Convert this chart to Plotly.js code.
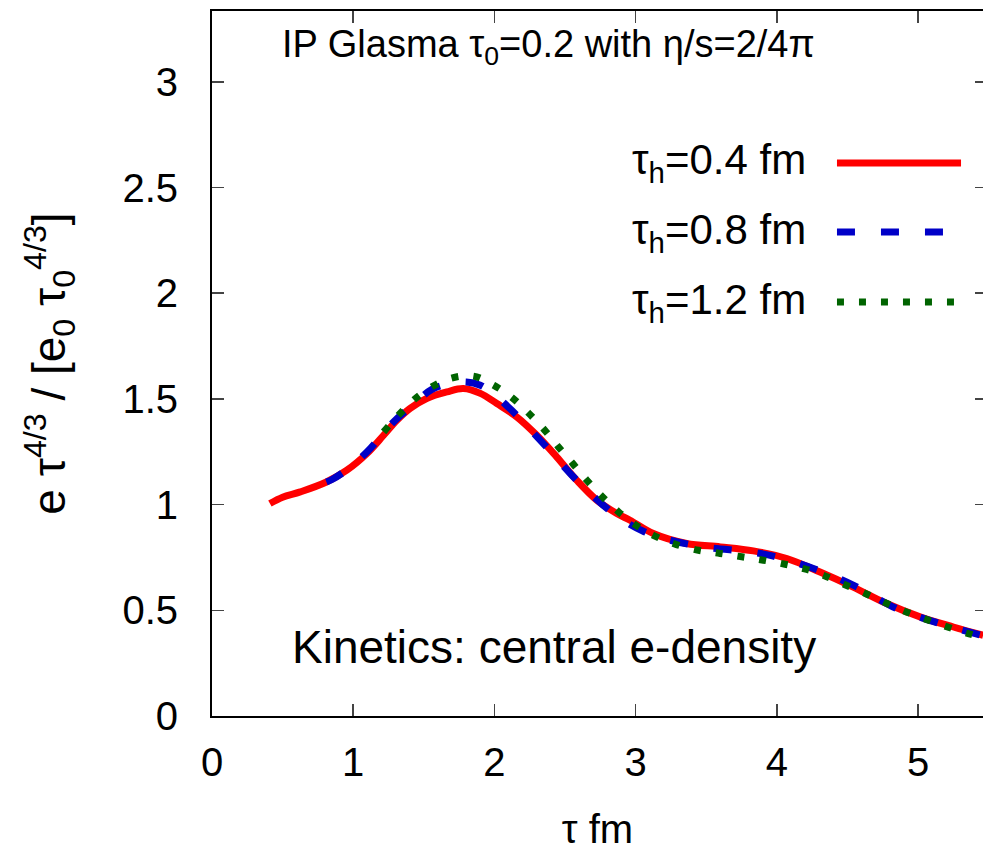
<!DOCTYPE html>
<html>
<head>
<meta charset="utf-8">
<script src="https://cdn.plot.ly/plotly-3.0.1.min.js"></script>
<style>html,body{margin:0;padding:0;background:#fff;overflow:hidden}</style>
</head>
<body>
<div id="chart" style="width:983px;height:851px"></div>
<script>
// τh = 0.4 fm (red, solid)
const tauA = [0.41, 0.5, 0.625, 0.81, 0.955, 1.097, 1.215, 1.309, 1.403, 1.52, 1.663, 1.78, 1.9, 2.017, 2.158, 2.3, 2.44, 2.583, 2.725, 2.866, 2.96, 3.125, 3.36, 3.6, 3.833, 4.07, 4.305, 4.54, 4.777, 5.013, 5.249, 5.46];
const eA   = [1.005, 1.035, 1.06, 1.107, 1.163, 1.242, 1.328, 1.399, 1.455, 1.502, 1.533, 1.549, 1.526, 1.478, 1.415, 1.328, 1.226, 1.115, 1.021, 0.958, 0.926, 0.863, 0.816, 0.80, 0.781, 0.745, 0.681, 0.61, 0.532, 0.469, 0.421, 0.382];
// τh = 0.8 fm (blue, dashed)
const tauB = [0.81, 0.85, 0.955, 1.097, 1.285, 1.42, 1.557, 1.68, 1.80, 1.9, 2.0, 2.12, 2.335, 2.548, 2.77, 2.91, 3.05, 3.196, 3.48, 3.81, 3.974, 4.258, 4.54, 4.848, 5.07, 5.27, 5.46];
const eB   = [1.107, 1.119, 1.165, 1.249, 1.391, 1.47, 1.545, 1.572, 1.58, 1.565, 1.52, 1.447, 1.297, 1.139, 0.997, 0.926, 0.875, 0.84, 0.80, 0.776, 0.756, 0.698, 0.619, 0.508, 0.455, 0.414, 0.38];
// τh = 1.2 fm (green, dotted)
const tauC = [1.215, 1.32, 1.427, 1.557, 1.686, 1.85, 1.993, 2.123, 2.24, 2.352, 2.453, 2.555, 2.654, 2.76, 2.878, 2.984, 3.125, 3.279, 3.444, 3.597, 3.751, 3.904, 4.057, 4.211, 4.328, 4.475, 4.619, 4.753, 4.9, 5.041, 5.19, 5.355, 5.46];
const eC   = [1.344, 1.423, 1.494, 1.557, 1.597, 1.608, 1.565, 1.507, 1.434, 1.355, 1.273, 1.194, 1.115, 1.04, 0.966, 0.911, 0.855, 0.813, 0.784, 0.769, 0.753, 0.737, 0.718, 0.693, 0.666, 0.623, 0.582, 0.54, 0.497, 0.461, 0.425, 0.39, 0.37];

const seriesNames = ['τ<sub>h</sub>=0.4 fm', 'τ<sub>h</sub>=0.8 fm', 'τ<sub>h</sub>=1.2 fm'];
const xTicks = [0, 1, 2, 3, 4, 5];
const yTicks = [0, 0.5, 1, 1.5, 2, 2.5, 3];
const yTickText = ['0', '0.5', '1', '1.5', '2', '2.5', '3'];

const FONT = 'Liberation Sans, Arial, sans-serif';
const colors = ['#ff0000', '#0000c8', '#006400'];
const dashes = ['solid', '18px,26px', '7px,15px'];

const data = [
  {x: tauA, y: eA, type: 'scatter', mode: 'lines', name: seriesNames[0], line: {color: colors[0], width: 7, shape: 'spline', dash: dashes[0]}, showlegend: false},
  {x: tauB, y: eB, type: 'scatter', mode: 'lines', name: seriesNames[1], line: {color: colors[1], width: 7, shape: 'spline', dash: dashes[1]}, showlegend: false},
  {x: tauC, y: eC, type: 'scatter', mode: 'lines', name: seriesNames[2], line: {color: colors[2], width: 7, shape: 'spline', dash: dashes[2]}, showlegend: false},
  {x: [], y: [], type: 'scatter', mode: 'lines', yaxis: 'y2', showlegend: false, hoverinfo: 'skip'}
];

const legendY = [0.7844, 0.6865, 0.5872];
const shapes = [];
const annotations = [];
for (let i = 0; i < 3; i++) {
  shapes.push({type: 'line', xref: 'paper', yref: 'paper', x0: 0.8106, x1: 0.9715, y0: legendY[i], y1: legendY[i],
    line: {color: colors[i], width: 7, dash: dashes[i]}});
  annotations.push({xref: 'paper', yref: 'paper', x: 0.773, y: legendY[i], xanchor: 'right', yanchor: 'middle',
    text: seriesNames[i], showarrow: false, font: {family: FONT, size: 42, color: '#000'}});
}
annotations.push({xref: 'paper', yref: 'paper', x: 0.0882, y: 0.949, xanchor: 'left', yanchor: 'middle',
  text: 'IP Glasma τ<sub>0</sub>=0.2 with η/s=2/4π', showarrow: false, font: {family: FONT, size: 38, color: '#000'}});
annotations.push({xref: 'paper', yref: 'paper', x: 0.1012, y: 0.0979, xanchor: 'left', yanchor: 'middle',
  text: 'Kinetics: central e-density', showarrow: false, font: {family: FONT, size: 46, color: '#000'}});

const layout = {
  width: 983, height: 851,
  margin: {l: 212, r: 0, t: 11, b: 135, pad: 0},
  paper_bgcolor: '#fff', plot_bgcolor: '#fff',
  font: {family: FONT, size: 40, color: '#000'},
  xaxis: {
    range: [0, 5.459], tickvals: xTicks, ticktext: xTicks.map(String),
    ticks: 'inside', ticklen: 12, tickwidth: 1.5, tickcolor: '#444',
    showline: true, linecolor: '#000', linewidth: 2, mirror: 'ticks',
    showgrid: false, zeroline: false, ticklabelstandoff: 10,
    tickfont: {family: FONT, size: 40, color: '#000'},
    title: {text: 'τ fm', font: {family: FONT, size: 40, color: '#000'}, standoff: 32}
  },
  yaxis: {
    range: [0, 3.335], tickvals: yTicks, ticktext: yTickText,
    ticks: 'inside', ticklen: 12, tickwidth: 1.5, tickcolor: '#444',
    showline: true, linecolor: '#000', linewidth: 2,
    showgrid: false, zeroline: false, ticklabelstandoff: 24,
    tickfont: {family: FONT, size: 40, color: '#000'},
    title: {text: 'e τ<sup>4/3</sup> / [e<sub>0</sub> τ<sub>0</sub><sup>4/3</sup>]', font: {family: FONT, size: 46, color: '#000'}, standoff: 42}
  },
  yaxis2: {
    overlaying: 'y', side: 'right', range: [0, 3.335], tickvals: yTicks,
    ticks: 'inside', ticklen: 8, tickwidth: 1.5, tickcolor: '#444',
    showline: false, showgrid: false, zeroline: false, showticklabels: false
  },
  shapes: shapes,
  annotations: annotations,
  showlegend: false
};

Plotly.newPlot('chart', data, layout, {displayModeBar: false, staticPlot: true});
</script>
</body>
</html>
